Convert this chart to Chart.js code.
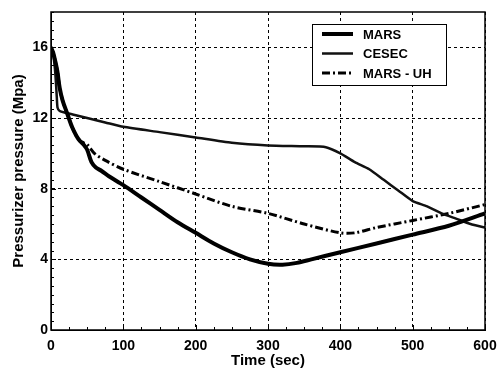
<!DOCTYPE html>
<html>
<head>
<meta charset="utf-8">
<script src="https://cdn.jsdelivr.net/npm/chart.js@4.4.1/dist/chart.umd.min.js"></script>
<style>
  html, body { margin: 0; padding: 0; background: #fff; }
  #wrap { width: 499px; height: 371px; }
</style>
</head>
<body>
<div id="wrap"><canvas id="c" width="499" height="371"></canvas></div>
<script>
// time (sec) / pressure (MPa)
const marsTime = [0, 3, 6, 9, 12, 16, 22, 29, 35, 40, 45, 50, 56, 62, 70, 80, 100, 125, 150, 175, 200, 225, 250, 275, 300, 320, 340, 360, 400, 450, 500, 550, 600];
const marsP = [16, 15.7, 15.2, 14.6, 13.7, 13, 12.3, 11.5, 11.0, 10.7, 10.5, 10.2, 9.5, 9.2, 9.0, 8.7, 8.2, 7.5, 6.8, 6.1, 5.5, 4.9, 4.4, 4.0, 3.75, 3.7, 3.8, 4.0, 4.4, 4.9, 5.4, 5.9, 6.6];

const cesecTime = [0, 3, 6, 8, 9, 12, 20, 30, 50, 75, 100, 150, 200, 250, 300, 350, 380, 400, 420, 440, 460, 480, 500, 520, 540, 560, 580, 600];
const cesecP = [16, 15.6, 14.5, 13.2, 12.6, 12.4, 12.3, 12.2, 12.0, 11.75, 11.5, 11.2, 10.9, 10.6, 10.45, 10.4, 10.35, 10.0, 9.5, 9.1, 8.5, 7.9, 7.3, 7.0, 6.6, 6.3, 6.0, 5.8];

const uhTime = [0, 3, 6, 9, 12, 16, 22, 29, 35, 40, 45, 50, 60, 75, 100, 150, 200, 250, 300, 350, 400, 420, 450, 500, 550, 600];
const uhP = [16, 15.7, 15.2, 14.6, 13.7, 13, 12.3, 11.5, 11.0, 10.7, 10.6, 10.5, 10.0, 9.6, 9.1, 8.4, 7.7, 7.0, 6.6, 6.0, 5.5, 5.5, 5.8, 6.2, 6.6, 7.1];

const xTicks = [0, 100, 200, 300, 400, 500, 600];
const yTicks = [0, 4, 8, 12, 16];
const seriesNames = ["MARS", "CESEC", "MARS - UH"];

const toPts = (xs, ys) => xs.map((x, i) => ({ x: x, y: ys[i] }));
const FONT = "'Liberation Sans', Arial, sans-serif";

// inward minor ticks + solid frame
const minorTicks = {
  id: "minorTicks",
  afterDatasetsDraw(chart) {
    const { ctx, chartArea: a, scales: { x, y } } = chart;
    ctx.save();
    ctx.strokeStyle = "#000";
    ctx.lineWidth = 1;
    ctx.beginPath();
    for (let v = 0; v <= 600; v += 25) {
      const px = Math.round(x.getPixelForValue(v)) + 0.5;
      const len = v % 100 === 0 ? 5 : 3;
      ctx.moveTo(px, a.bottom); ctx.lineTo(px, a.bottom - len);
    }
    for (let v = 0; v <= 18; v += 0.5) {
      const py = Math.round(y.getPixelForValue(v)) + 0.5;
      const len = v % 4 === 0 ? 5 : 3;
      ctx.moveTo(a.left, py); ctx.lineTo(a.left + len, py);
    }
    ctx.stroke();
    ctx.lineWidth = 1.5;
    ctx.strokeRect(a.left, a.top, a.right - a.left, a.bottom - a.top);
    ctx.restore();
  },
};

// boxed legend inside the plot
const boxLegend = {
  id: "boxLegend",
  afterDatasetsDraw(chart) {
    const { ctx } = chart;
    const bx = 312, by = 24, bw = 134, bh = 61;
    ctx.save();
    ctx.fillStyle = "#fff";
    ctx.fillRect(bx, by, bw, bh);
    ctx.strokeStyle = "#000";
    ctx.lineWidth = 1;
    ctx.strokeRect(bx + 0.5, by + 0.5, bw, bh);
    chart.data.datasets.forEach((ds, i) => {
      const ly = by + 10 + i * 19.5;
      ctx.beginPath();
      ctx.lineWidth = ds.borderWidth;
      ctx.setLineDash(ds.borderDash || []);
      ctx.strokeStyle = ds.borderColor;
      ctx.moveTo(bx + 10, ly);
      ctx.lineTo(bx + 41, ly);
      ctx.stroke();
      ctx.setLineDash([]);
      ctx.fillStyle = "#000";
      ctx.font = "bold 13px " + FONT;
      ctx.textBaseline = "middle";
      ctx.fillText(ds.label, bx + 51, ly + 1);
    });
    ctx.restore();
  },
};

new Chart(document.getElementById("c"), {
  type: "line",
  data: {
    datasets: [
      {
        label: seriesNames[0],
        data: toPts(marsTime, marsP),
        borderColor: "#000",
        borderWidth: 4,
        pointRadius: 0,
        tension: 0.3,
      },
      {
        label: seriesNames[1],
        data: toPts(cesecTime, cesecP),
        borderColor: "#111",
        borderWidth: 2.5,
        pointRadius: 0,
        tension: 0.2,
      },
      {
        label: seriesNames[2],
        data: toPts(uhTime, uhP),
        borderColor: "#000",
        borderWidth: 3,
        borderDash: [8, 3, 2, 3],
        pointRadius: 0,
        tension: 0.3,
      },
    ],
  },
  options: {
    responsive: false,
    animation: false,
    layout: { padding: { top: 12, right: 14, left: 0, bottom: 0 } },
    plugins: { legend: { display: false }, tooltip: { enabled: false } },
    scales: {
      x: {
        type: "linear",
        min: 0,
        max: 600,
        afterBuildTicks: (s) => { s.ticks = xTicks.map((v) => ({ value: v })); },
        afterFit: (s) => { s.height = 41; s.paddingRight = 0; s.paddingLeft = 0; },
        grid: { color: "#000", lineWidth: 1, drawTicks: false },
        border: { display: true, color: "#000", dash: [3, 3] },
        ticks: { color: "#000", padding: 8, font: { family: FONT, size: 14, weight: "bold" } },
        title: {
          display: true,
          text: "Time (sec)",
          color: "#000",
          padding: { top: 0, bottom: 1 },
          font: { family: FONT, size: 15, weight: "bold" },
        },
      },
      y: {
        min: 0,
        max: 18,
        afterBuildTicks: (s) => { s.ticks = yTicks.map((v) => ({ value: v })); },
        afterFit: (s) => { s.width = 51; s.paddingTop = 0; s.paddingBottom = 0; },
        grid: { color: "#000", lineWidth: 1, drawTicks: false },
        border: { display: true, color: "#000", dash: [3, 3] },
        ticks: { color: "#000", padding: 3, font: { family: FONT, size: 14, weight: "bold" } },
        title: {
          display: true,
          text: "Pressurizer pressure (Mpa)",
          color: "#000",
          padding: { top: 10, bottom: 0 },
          font: { family: FONT, size: 15, weight: "bold" },
        },
      },
    },
  },
  plugins: [minorTicks, boxLegend],
});
</script>
</body>
</html>
